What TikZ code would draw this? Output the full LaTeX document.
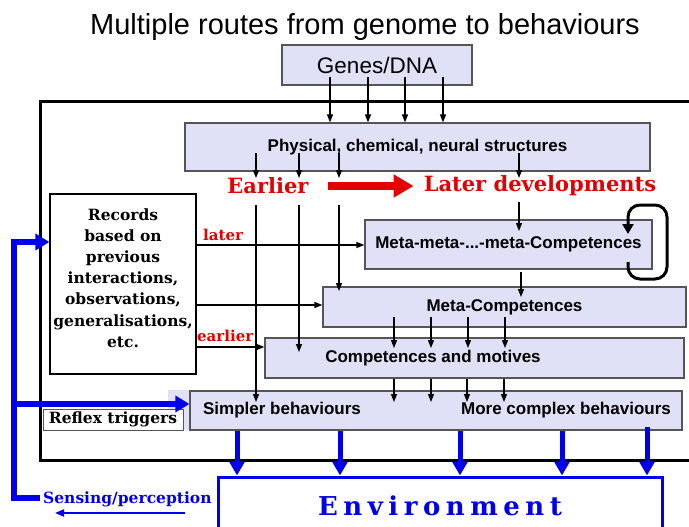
\documentclass[tikz,border=0pt]{standalone}
\usepackage{fontspec}
\setmainfont{DejaVu Serif}
\setsansfont{Liberation Sans}
\usetikzlibrary{arrows.meta}
\definecolor{stagefill}{RGB}{224,224,246}
\definecolor{stageline}{RGB}{85,85,85}
\definecolor{devred}{RGB}{228,0,0}
\definecolor{envblue}{RGB}{0,0,235}

\begin{document}
\begin{tikzpicture}[x=1pt,y=-1pt]
  \tikzset{stage/.style={draw=stageline, line width=1.2pt, fill=stagefill, inner sep=0pt,
      font=\sffamily\bfseries\fontsize{17}{19}\selectfont},
    arr/.style={line width=1.3pt, -{Triangle[length=8pt,width=6pt]}},
    redlabel/.style={text=devred, inner sep=0pt, font=\bfseries\fontsize{21}{23}\selectfont},
    smallred/.style={text=devred, inner sep=0pt, font=\bfseries\fontsize{15}{17}\selectfont},
    feed/.style={draw=envblue, line width=6pt},
    act/.style={draw=envblue, line width=5pt, -{Triangle[length=14pt,width=15pt]}}}
  \useasboundingbox (0,0) rectangle (689,527);
  \clip (0,0) rectangle (689,527);

  \node[font=\sffamily\fontsize{29}{31}\selectfont, anchor=base] (title) at (365,35)
    {Multiple routes from genome to behaviours};
  \node[stage, font=\sffamily\fontsize{22.5}{24}\selectfont, minimum width=190pt, minimum height=40pt]
    (genes) at (377,65) {Genes/DNA};

  % the agent
  \draw[line width=3pt] (40,102) rectangle (720,460);
  \node[stage, minimum width=465pt, minimum height=48pt] (phys) at (417.5,147)
    {Physical, chemical, neural structures};
  \node[redlabel] (earlier) at (268,186) {Earlier};
  \node[redlabel] (laterdev) at (540,186) {Later developments};
  \draw[devred, line width=8pt, -{Triangle[length=20pt,width=22pt]}]
    ([xshift=19pt]earlier.east) -- ([xshift=-10pt]laterdev.west);

  \node[draw, line width=1.2pt, fill=white, minimum width=146pt, minimum height=180pt] (records) at (123,284) {};
  \node[align=center, inner sep=0pt, font=\bfseries\fontsize{15.5}{21.2}\selectfont] at (123,278)
    {Records\\based on\\previous\\interactions,\\observations,\\generalisations,\\etc.};

  \node[stage, minimum width=287pt, minimum height=49pt] (metameta) at (508.5,244.5)
    {Meta-meta-...-meta-Competences};
  \node[stage, minimum width=363pt, minimum height=40pt] (metacomp) at (504.5,307)
    {Meta-Competences};
  \node[stage, minimum width=419pt, minimum height=40pt] (comp) at (474.5,358) {};
  \node[font=\sffamily\bfseries\fontsize{17}{19}\selectfont] at (433,358) {Competences and motives};
  \fill[stagefill] (168,390) rectangle (190,430);
  \node[stage, minimum width=492pt, minimum height=39pt] (simpler) at (436,410.5) {};
  \node[font=\sffamily\bfseries\fontsize{17}{19}\selectfont] at (282,410) {Simpler behaviours};
  \node[font=\sffamily\bfseries\fontsize{17}{19}\selectfont] at (566,410) {More complex behaviours};
  \node[draw=stageline, line width=1pt, fill=white, minimum width=140pt, minimum height=21pt,
    inner sep=0pt, font=\bfseries\fontsize{15.5}{17}\selectfont] (reflex) at (113,419.5) {Reflex triggers};

  % genome downwards
  \foreach \x in {330,368,405,443}
    \draw[arr] (\x,77) -- (phys.north -| \x,0);
  \foreach \x in {256,299,339,519}
    \draw[arr] (\x,153) -- (\x,178);
  \draw[arr] (256,205) -- (256,402);
  \draw[arr] (299,205) -- (299,352);
  \draw[arr] (339,205) -- (339,291);
  \draw[arr] (519,202) -- (519,231);
  \draw[arr] (521,272) -- (521,297);
  \foreach \x in {394,431,468,505}
    \draw[arr] (\x,317) -- (\x,348);
  \foreach \x in {394,431,467,504}
    \draw[arr] (\x,379) -- (\x,402);

  % records feed the competences
  \node[smallred, anchor=base west] (laterlbl) at (203,240) {later};
  \node[smallred, anchor=base west] (earlierlbl) at (197,341) {earlier};
  \draw[arr] (records.east |- 0,245) -- (metameta.west |- 0,245);
  \draw[arr] (records.east |- 0,305) -- (metacomp.west |- 0,305);
  \draw[arr] (records.east |- 0,347) -- (comp.west |- 0,347);

  % self loop
  \draw[line width=3pt, rounded corners=12pt, -{Triangle[length=10pt,width=11pt]}]
    (628,262) -- (628,279) -- (667,279) -- (667,205) -- (628,205) -- (628,234);

  % environment
  \node[draw=envblue, line width=3pt, fill=white, minimum width=444pt, minimum height=70pt]
    (env) at (440,512) {};
  \node[text=envblue, anchor=base, font=\bfseries\fontsize{26}{28}\selectfont] at (440,515)
    {\spaceskip=5.5pt E n v i r o n m e n t};
  \foreach \x in {237,340,460,562}
    \draw[act] (simpler.south -| \x,0) -- (env.north -| \x,0);
  \draw[act] (647,427) -- (env.north -| 647,0);

  % sensing
  \draw[feed, line join=miter] (40,498) -- (14,498) -- (14,242)
    -- (records.west |- 0,242) [-{Triangle[length=14pt,width=16pt]}];
  \draw[feed, -{Triangle[length=14pt,width=16pt]}] (14,404) -- (simpler.west |- 0,404);
  \node[text=envblue, anchor=base west, inner sep=0pt, font=\bfseries\fontsize{15.5}{17}\selectfont]
    (sensing) at (43,503) {Sensing/perception};
  \draw[envblue, line width=2pt, -{Triangle[length=9pt,width=7pt]}] (185,513) -- (55,513);
\end{tikzpicture}
\end{document}
